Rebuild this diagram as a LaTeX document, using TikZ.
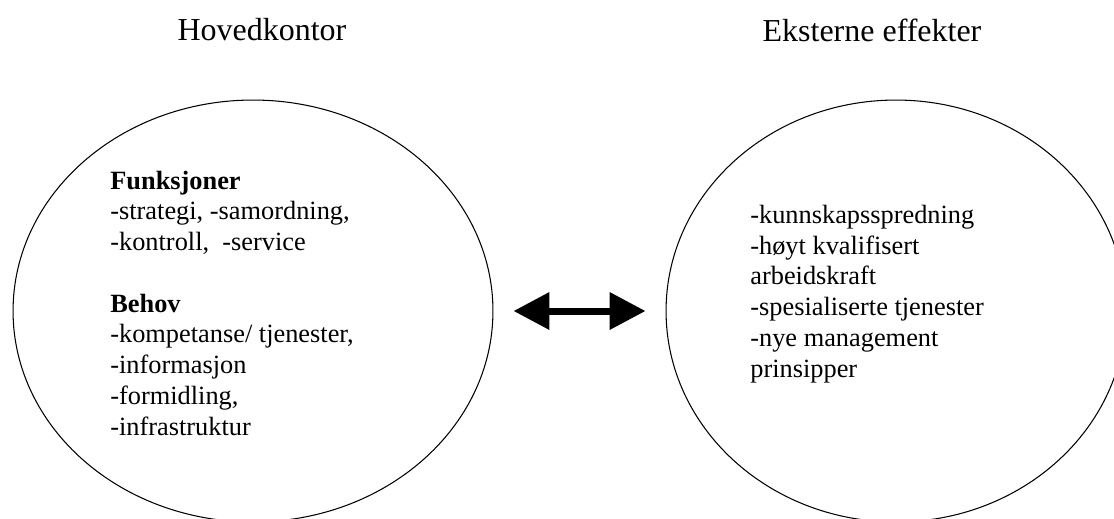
\documentclass[tikz,border=0pt]{standalone}
\usepackage{fontspec}
\setmainfont{Liberation Serif}
\usetikzlibrary{shapes.geometric,arrows.meta}
\begin{document}
\begin{tikzpicture}[x=0.02cm,y=-0.02cm,
		font=\fontsize{15}{17.5}\selectfont,
		sirkel/.style={draw,ellipse,line width=.6pt,minimum height=8.44cm,inner sep=0pt},
		liste/.style={align=left,inner sep=0pt,anchor=base west},
		tittel/.style={font=\fontsize{18.2}{22}\selectfont,inner sep=0pt,anchor=base},
		pil/.tip={Triangle[length=0.72cm,width=0.72cm]}]
	\useasboundingbox (0,0) rectangle (1114,518);
	\node[sirkel,minimum width=9.6cm] (hoved) at (253,311) {};
	\node[sirkel,minimum width=9.2cm] (ekstern) at (896,311) {};
	\node[tittel] (hovedtittel) at (262,40) {Hovedkontor};
	\node[tittel] (eksterntittel) at (872,41) {Eksterne effekter};
	% base = baseline of the last line
	\node[liste] (funksjoner) at (110,435) {\textbf{Funksjoner}\\
		-strategi, -samordning,\\
		-kontroll,\ \ -service\\[17.5pt]
		\textbf{Behov}\\
		-kompetanse/ tjenester,\\
		-informasjon\\
		-formidling,\\
		-infrastruktur};
	\node[liste] (effekter) at (750,377) {-kunnskapsspredning\\
		-høyt kvalifisert\\
		arbeidskraft\\
		-spesialiserte tjenester\\
		-nye management\\
		prinsipper};
	\draw[line width=0.14cm,pil-pil,shorten <=0.4cm,shorten >=0.4cm] (hoved) -- (ekstern);
\end{tikzpicture}
\end{document}
